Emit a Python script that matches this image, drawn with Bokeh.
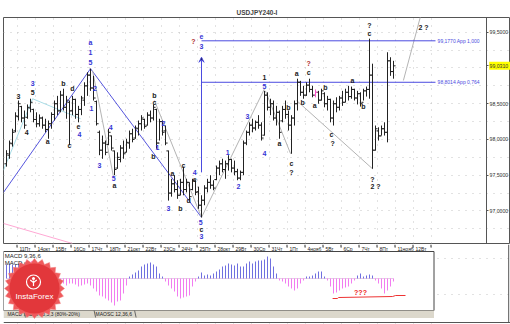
import numpy as np
from bokeh.plotting import figure
from bokeh.layouts import column
from bokeh.models import (Range1d, FixedTicker, CustomJSTickFormatter, ColumnDataSource,
                          Arrow, VeeHead)
from bokeh.core.properties import value
from bokeh.embed import file_html
from bokeh.resources import INLINE

FONT = "Liberation Sans"

# ---------------- data (4H bars, USDJPY) ----------------
high = [97.85, 97.985, 98.15, 98.38, 98.545, 98.47, 98.405, 98.49, 98.57, 98.43,
        98.38, 98.35, 98.32, 98.29, 98.265, 98.38, 98.545, 98.61, 98.68, 98.71,
        98.61, 98.545, 98.61, 98.57, 98.47, 98.61, 98.80, 98.94, 98.99, 98.89,
        98.545, 98.125, 98.055, 97.985, 98.15, 98.055, 97.845, 97.82, 97.92, 97.985,
        98.01, 98.125, 98.15, 98.195, 98.265, 98.34, 98.29, 98.38, 98.405, 98.49,
        98.43, 98.29, 98.265, 98.195, 97.845, 97.45, 97.50, 97.43, 97.45, 97.62,
        97.45, 97.40, 97.45, 97.43, 97.34, 97.22, 97.36, 97.45, 97.50, 97.43,
        97.635, 97.705, 97.73, 97.705, 97.78, 97.73, 97.705, 97.59, 97.565, 97.985,
        98.125, 98.24, 98.29, 98.265, 98.34, 98.24, 98.68, 98.66, 98.57, 98.545,
        98.47, 98.405, 98.47, 98.545, 98.405, 98.34, 98.545, 98.85, 98.82, 98.75,
        98.80, 98.85, 98.75, 98.70, 98.68, 98.71, 98.66, 98.61, 98.57, 98.545,
        98.59, 98.61, 98.68, 98.71, 98.75, 98.74, 98.71, 98.68, 98.66, 98.71,
        98.74, 99.41, 99.06, 98.195, 98.17, 98.195, 98.24, 99.22, 99.15, 99.10]
low = [97.62, 97.73, 97.90, 98.10, 98.265, 98.24, 98.15, 98.29, 98.38, 98.24,
       98.17, 98.18, 98.15, 98.10, 98.01, 98.15, 98.265, 98.34, 98.38, 98.405,
       98.29, 97.92, 98.34, 98.29, 98.24, 98.34, 98.47, 98.61, 98.68, 98.545,
       98.195, 97.78, 97.73, 97.78, 97.92, 97.845, 97.50, 97.59, 97.68, 97.73,
       97.82, 97.87, 97.96, 98.01, 98.055, 98.125, 98.15, 98.195, 98.24, 98.265,
       97.87, 97.985, 98.055, 97.92, 97.145, 97.20, 97.26, 97.17, 97.22, 97.22,
       97.26, 97.145, 97.29, 97.22, 97.03, 96.91, 97.08, 97.26, 97.31, 97.29,
       97.43, 97.50, 97.54, 97.45, 97.565, 97.54, 97.50, 97.43, 97.43, 97.50,
       97.92, 98.055, 98.10, 98.125, 98.15, 97.985, 98.055, 98.405, 98.34, 98.265,
       98.195, 98.01, 98.24, 98.29, 98.125, 97.80, 98.195, 98.405, 98.61, 98.57,
       98.61, 98.66, 98.59, 98.59, 98.50, 98.545, 98.45, 98.405, 98.24, 98.195,
       98.38, 98.405, 98.47, 98.52, 98.545, 98.57, 98.545, 98.49, 98.46, 98.545,
       98.60, 98.57, 97.59, 97.845, 97.985, 98.055, 98.055, 97.96, 98.89, 98.85]
open_ = [97.66, 97.78, 97.94, 98.12, 98.32, 98.46, 98.30, 98.31, 98.44, 98.42,
         98.28, 98.22, 98.30, 98.20, 98.14, 98.22, 98.35, 98.50, 98.40, 98.62,
         98.45, 98.52, 98.40, 98.56, 98.35, 98.42, 98.55, 98.75, 98.90, 98.72,
         98.53, 98.10, 97.85, 97.95, 97.93, 98.05, 97.84, 97.60, 97.72, 97.88,
         97.82, 97.95, 98.08, 98.02, 98.15, 98.22, 98.28, 98.20, 98.34, 98.30,
         98.42, 97.95, 98.25, 98.12, 97.84, 97.25, 97.38, 97.30, 97.22, 97.40,
         97.30, 97.40, 97.30, 97.42, 97.27, 97.08, 97.15, 97.32, 97.40, 97.36,
         97.44, 97.60, 97.66, 97.58, 97.66, 97.72, 97.60, 97.55, 97.46, 97.54,
         97.95, 98.10, 98.20, 98.16, 98.24, 98.20, 98.06, 98.62, 98.45, 98.50,
         98.30, 98.38, 98.26, 98.42, 98.35, 98.20, 98.30, 98.50, 98.80, 98.66,
         98.62, 98.76, 98.70, 98.62, 98.66, 98.55, 98.64, 98.50, 98.56, 98.30,
         98.50, 98.45, 98.58, 98.52, 98.66, 98.60, 98.70, 98.58, 98.64, 98.52,
         98.68, 98.70, 98.90, 97.85, 98.12, 98.05, 98.15, 98.10, 99.10, 98.95]
close = [97.80, 97.95, 98.10, 98.33, 98.50, 98.30, 98.20, 98.45, 98.52, 98.28,
         98.22, 98.30, 98.20, 98.14, 98.22, 98.35, 98.50, 98.40, 98.62, 98.45,
         98.55, 98.40, 98.56, 98.35, 98.42, 98.58, 98.75, 98.90, 98.72, 98.58,
         98.22, 97.85, 97.95, 97.82, 98.10, 97.88, 97.58, 97.75, 97.88, 97.80,
         97.96, 98.08, 98.00, 98.16, 98.22, 98.30, 98.18, 98.34, 98.30, 98.45,
         97.95, 98.25, 98.10, 97.95, 97.25, 97.38, 97.30, 97.22, 97.40, 97.30,
         97.40, 97.20, 97.42, 97.26, 97.08, 97.15, 97.32, 97.40, 97.36, 97.32,
         97.60, 97.66, 97.58, 97.66, 97.72, 97.60, 97.55, 97.46, 97.54, 97.95,
         98.10, 98.20, 98.16, 98.24, 98.20, 98.02, 98.62, 98.45, 98.50, 98.30,
         98.38, 98.10, 98.42, 98.35, 98.20, 98.30, 98.50, 98.80, 98.66, 98.62,
         98.76, 98.70, 98.62, 98.66, 98.55, 98.68, 98.50, 98.56, 98.30, 98.50,
         98.45, 98.58, 98.52, 98.66, 98.60, 98.70, 98.58, 98.64, 98.50, 98.68,
         98.70, 98.90, 97.85, 98.15, 98.05, 98.15, 98.10, 99.10, 98.95, 99.03]
macd_hist = [0.14, 0.15, 0.14, 0.14, 0.15, 0.16, 0.15, 0.14, 0.14, 0.12,
             0.10, 0.08, 0.07, 0.05, 0.03, 0.02, -0.01, -0.03, -0.04, -0.05,
             -0.07, -0.05, -0.05, -0.06, -0.08, -0.07, -0.06, -0.05, -0.07, -0.10,
             -0.13, -0.17, -0.18, -0.20, -0.22, -0.24, -0.27, -0.23, -0.22, -0.15,
             -0.07, 0.02, 0.04, 0.06, 0.08, 0.12, 0.14, 0.15, 0.16, 0.14,
             0.12, 0.05, 0.02, -0.03, -0.07, -0.10, -0.13, -0.18, -0.20, -0.19,
             -0.18, -0.17, -0.08, -0.03, 0.02, 0.06, 0.03, 0.04, 0.03, 0.05,
             0.07, 0.09, 0.12, 0.13, 0.15, 0.14, 0.13, 0.15, 0.12, 0.12,
             0.15, 0.17, 0.15, 0.17, 0.18, 0.18, 0.19, 0.22, 0.20, 0.12,
             0.05, -0.02, -0.03, -0.05, -0.08, -0.10, -0.12, -0.10, -0.05, -0.02,
             0.02, 0.02, 0.03, 0.05, 0.07, 0.07, 0.02, -0.02, -0.08, -0.15,
             -0.14, -0.12, -0.10, -0.09, -0.08, -0.05, -0.02, 0.03, 0.05, 0.02,
             0.03, 0.04, 0.03, -0.02, -0.05, -0.10, -0.15, -0.12, -0.08, -0.03]
day_labels = ["11Пт", "14окт", "15Вт", "16Ср", "17Чт", "18Пт", "21окт", "22Вт",
              "23Ср", "24Чт", "25Пт", "28окт", "29Вт", "30Ср", "31Чт", "1Пт",
              "4нояб", "5Вт", "6Ср", "7Чт", "8Пт", "11нояб", "12Вт"]
last_price = 99.031
price_ticks = [97.0, 97.5, 98.0, 98.5, last_price, 99.5]
fib_levels = [99.38, 98.80]
fib_labels = ["99,1770 App 1,000", "98,8014 App 0,764"]
highlight_bar = 103

# ---------------- annotation layout ----------------
K, B, R = "#1a1a1a", "#3535d5", "#b03030"
GRAY, BLUE, CYAN, PINK = "#b4b4b4", "#5555dd", "#a8dce6", "#ffa8d4"
wave_labels = [
    (4, 98.60, "3", K), (8.7, 98.78, "3", B), (8.7, 98.66, "5", K),
    (19, 98.78, "b", K), (22, 98.71, "d", K), (6.7, 98.10, "4", K),
    (13.7, 97.97, "a", K), (21, 97.92, "c", K), (24, 98.18, "e", K),
    (24.3, 98.07, "4", B), (28, 99.36, "a", B), (28, 99.22, "1", B),
    (28, 99.08, "5", B), (29.5, 98.71, "2", B), (28.3, 98.43, "1", B),
    (31, 97.64, "3", B), (34.7, 98.17, "4", B), (35.7, 97.45, "5", B),
    (36, 97.35, "a", K), (49.3, 98.61, "b", K), (49.3, 98.52, "c", K),
    (52.3, 98.22, "2", B), (50.3, 97.89, "1", B), (49, 97.76, "b", K),
    (54, 97.03, "3", B), (55.3, 97.52, "a", K), (58, 97.03, "b", K),
    (59, 97.64, "c", K), (60.7, 97.15, "d", K), (62.7, 97.54, "4", B),
    (62.7, 97.44, "e", K), (64.7, 96.84, "5", B), (65, 96.74, "c", K),
    (65, 96.64, "3", B), (73.7, 97.82, "1", B), (77.3, 97.34, "2", B),
    (80.3, 98.32, "3", B), (86, 97.80, "4", B), (86, 98.87, "1", K),
    (86, 98.74, "5", B), (91, 97.94, "a", K), (94, 98.45, "b", K),
    (95, 97.66, "c", K), (95, 97.54, "?", K), (96.7, 98.92, "a", K),
    (98.7, 98.52, "b", K), (100.7, 99.06, "?", R), (100.7, 98.94, "c", K),
    (102.7, 98.475, "a", K), (106.3, 98.73, "b", K), (108.3, 98.07, "c", K),
    (108.7, 97.94, "?", K), (115.3, 98.825, "a", K), (119, 98.46, "b", K),
    (121, 99.59, "?", K), (121, 99.48, "c", K), (122, 97.44, "?", K),
    (123, 97.34, "2 ?", K), (139, 99.57, "2 ?", K), (62.3, 99.37, "?", R),
    (65, 99.44, "e", B), (65, 99.30, "3", B),
]
wave_lines = [
    ([-1, 28, 65], [97.26, 98.99, 96.91], BLUE),
    ([28.7, 35.7], [98.96, 97.47], GRAY),
    ([49.3, 65], [98.545, 96.91], GRAY),
    ([65, 86], [96.91, 98.71], GRAY),
    ([86.3, 94.7], [98.68, 97.80], GRAY),
    ([96.7, 122], [98.545, 97.59], GRAY),
    ([132.3, 138.5], [98.825, 99.8], GRAY),
    ([-1, 8.7, 24.7], [97.57, 98.57, 98.29], CYAN),
    ([-1, 22], [96.825, 96.545], PINK),
]

idx = np.arange(len(high))
day_ticks = 3.5 + 6 * np.arange(len(day_labels) + 1)
x_range = Range1d(-1, 168)
AXIS_AT = 160.0
price_fmt = CustomJSTickFormatter(code="return tick.toFixed(4).replace('.', ',');")


def style_grid(fig, yticks):
    for g in (fig.xgrid[0], fig.ygrid[0]):
        g.grid_line_color = "#c4c4c4"
        g.grid_line_dash = "1 6"
    fig.xgrid.ticker = FixedTicker(ticks=list(day_ticks))
    fig.ygrid.ticker = FixedTicker(ticks=yticks)


# ---------------- main price panel ----------------
p = figure(width=510, height=244, x_range=x_range, y_range=Range1d(96.545, 99.706),
           title="USDJPY240-I", output_backend="svg", toolbar_location=None,
           x_axis_location=None, y_axis_location="right", min_border_left=3,
           min_border_top=17, min_border_bottom=1, min_border_right=0,
           outline_line_color="#555555", background_fill_color="white",
           border_fill_color="white")
p.title.align = "center"
p.title.text_font_size = "6.5px"
p.title.text_font = FONT
p.title.text_font_style = "bold"
p.title.standoff = 4
p.title.offset = 0

ax = p.yaxis[0]
ax.fixed_location = AXIS_AT
ax.ticker = FixedTicker(ticks=price_ticks)
ax.formatter = price_fmt
ax.major_label_text_font_size = "5.2px"
ax.major_label_text_font = FONT
ax.major_label_text_color = "#333333"
ax.major_label_standoff = 1
ax.major_tick_out = 2
ax.major_tick_in = 0
ax.minor_tick_line_color = None
ax.axis_line_color = "#555555"
ax.major_tick_line_color = "#555555"
style_grid(p, [96.75, 97.0, 97.25, 97.5, 97.75, 98.0, 98.25, 98.5, 98.75, 99.0, 99.25, 99.5])

# current price tag background on the axis
p.quad(left=AXIS_AT + 0.9, right=168, top=last_price + 0.055, bottom=last_price - 0.055,
       fill_color="#ffff00", line_color=None)

for xs, ys, col in wave_lines:
    p.line(xs, ys, line_color=col, line_width=1)

for lvl, txt in zip(fib_levels, fib_labels):
    p.segment(x0=65, y0=lvl, x1=143, y1=lvl, line_color="#4b4be0", line_width=1)
    p.text(x=[143.7], y=[lvl], text=[txt], text_font=value(FONT), text_font_size="5px",
           text_color="#4b4be0", text_baseline="middle", text_align="left")
p.add_layout(Arrow(end=VeeHead(size=5, line_color="#4b4be0", line_width=1),
                   x_start=65, y_start=97.54, x_end=65, y_end=99.15,
                   line_color="#4b4be0", line_width=1))

bar_colors = ["#ff55cc" if i == highlight_bar else "#222222" for i in idx]
src = ColumnDataSource(dict(x=idx, xl=idx - 0.7, xr=idx + 0.7, high=high, low=low,
                            open=open_, close=close, color=bar_colors))
p.segment(x0="x", y0="low", x1="x", y1="high", line_color="color", line_width=1, source=src)
p.segment(x0="xl", y0="open", x1="x", y1="open", line_color="color", line_width=1, source=src)
p.segment(x0="x", y0="close", x1="xr", y1="close", line_color="color", line_width=1, source=src)

wl = ColumnDataSource(dict(x=[w[0] for w in wave_labels], y=[w[1] for w in wave_labels],
                           text=[w[2] for w in wave_labels], color=[w[3] for w in wave_labels]))
p.text(x="x", y="y", text="text", text_color="color", source=wl, text_font=value(FONT),
       text_font_size="7px", text_font_style="bold", text_align="center",
       text_baseline="middle")

# ---------------- lower panel: date axis + MACD ----------------
q = figure(width=510, height=80, x_range=x_range, y_range=Range1d(-0.46, 0.34),
           output_backend="svg", toolbar_location=None, x_axis_location=None,
           y_axis_location=None, min_border_left=3, min_border_top=0,
           min_border_bottom=0, min_border_right=0, outline_line_color=None,
           background_fill_color="white", border_fill_color="white")
style_grid(q, [0.2, -0.16])

q.segment(x0=day_ticks, y0=0.34, x1=day_ticks, y1=0.31, line_color="#333333")
q.text(x=day_ticks[:len(day_labels)] + 0.8, y=[0.297] * len(day_labels), text=day_labels,
       text_font=value(FONT), text_font_size="5px", text_color="#222222",
       text_baseline="middle", text_align="left")

q.quad(left=-1, right=142.5, top=0.27, bottom=-0.32, fill_color="white",
       line_color="#444444", line_width=1)
q.quad(left=-1, right=142.5, top=-0.32, bottom=-0.395, fill_color="#dcd8cc", line_color=None)
q.segment(x0=-1, y0=-0.44, x1=168, y1=-0.44, line_color="#555555")
q.segment(x0=167.4, y0=0.34, x1=167.4, y1=-0.44, line_color="#555555")
q.segment(x0=0, y0=0.0, x1=129, y1=0.0, line_color="#e6cde6")

hist_colors = ["#7070e0" if v >= 0 else "#f27cf0" for v in macd_hist]
q.segment(x0=idx, y0=0, x1=idx, y1=macd_hist, line_color=hist_colors, line_width=1)

q.text(x=[-0.6], y=[0.23], text=["MACD 9,36,6"], text_font=value(FONT),
       text_font_size="6px", text_color="#222222", text_baseline="middle", text_align="left")
q.text(x=[-0.6], y=[0.16], text=["MACD = "], text_font=value(FONT),
       text_font_size="6px", text_color="#222222", text_baseline="middle", text_align="left")
q.text(x=[6.3], y=[0.16], text=["0.09"], text_font=value(FONT),
       text_font_size="6px", text_color="#ff40ff", text_baseline="middle", text_align="left")

q.text(x=[118], y=[-0.135], text=["???"], text_font=value(FONT), text_font_size="7px",
       text_font_style="bold", text_color="#ee2222", text_baseline="middle", text_align="center")
q.line([108.7, 110.3, 110.7, 128.7, 129.7, 133], [-0.20, -0.20, -0.19, -0.18, -0.17, -0.17],
       line_color="#ee3333", line_width=1)

tab_text = ["MACD 9,36,6", "Stoch 13,3,3 (80%-20%)", "MAOSC 12,36,6"]
tab_x = [0.3, 6.3, 29.7]
q.text(x=tab_x, y=[-0.357] * 3, text=tab_text, text_font=value(FONT), text_font_size="5px",
       text_color="#222222", text_baseline="middle", text_align="left")
q.segment(x0=[5.8, 29.2, 42.7], y0=[-0.32] * 3, x1=[6.3, 29.7, 43.2], y1=[-0.39] * 3,
          line_color="#666666")

# InstaForex logo
cx, cy = 9.33, -0.10
ang = np.arange(48) * np.pi / 24
rad = np.where(np.arange(48) % 2 == 0, 30.0, 26.0)
q.patch(cx + rad * np.cos(ang) / 3.0, cy + rad * np.sin(ang) / 100.0,
        fill_color="#ef5a5c", line_color="#f08080", line_width=0.5)
q.scatter(x=[cx], y=[cy], size=50, marker="circle", fill_color="#e2373b", line_color=None)
q.scatter(x=[9.0], y=[-0.035], size=14, marker="circle", fill_color=None,
          line_color="white", line_width=1.2)
q.scatter(x=[9.0], y=[0.0], size=3, marker="circle", fill_color="white", line_color=None)
q.multi_line(xs=[[9.0, 9.0], [7.9, 9.0, 10.1]], ys=[[-0.02, -0.075], [-0.015, -0.04, -0.015]],
             line_color="white", line_width=1.2)
q.text(x=[cx], y=[-0.18], text=["InstaForex"], text_font=value(FONT), text_font_size="8px",
       text_color="white", text_baseline="middle", text_align="center")

layout = column(p, q, spacing=0)
open("out.html", "w").write(file_html(layout, INLINE))
